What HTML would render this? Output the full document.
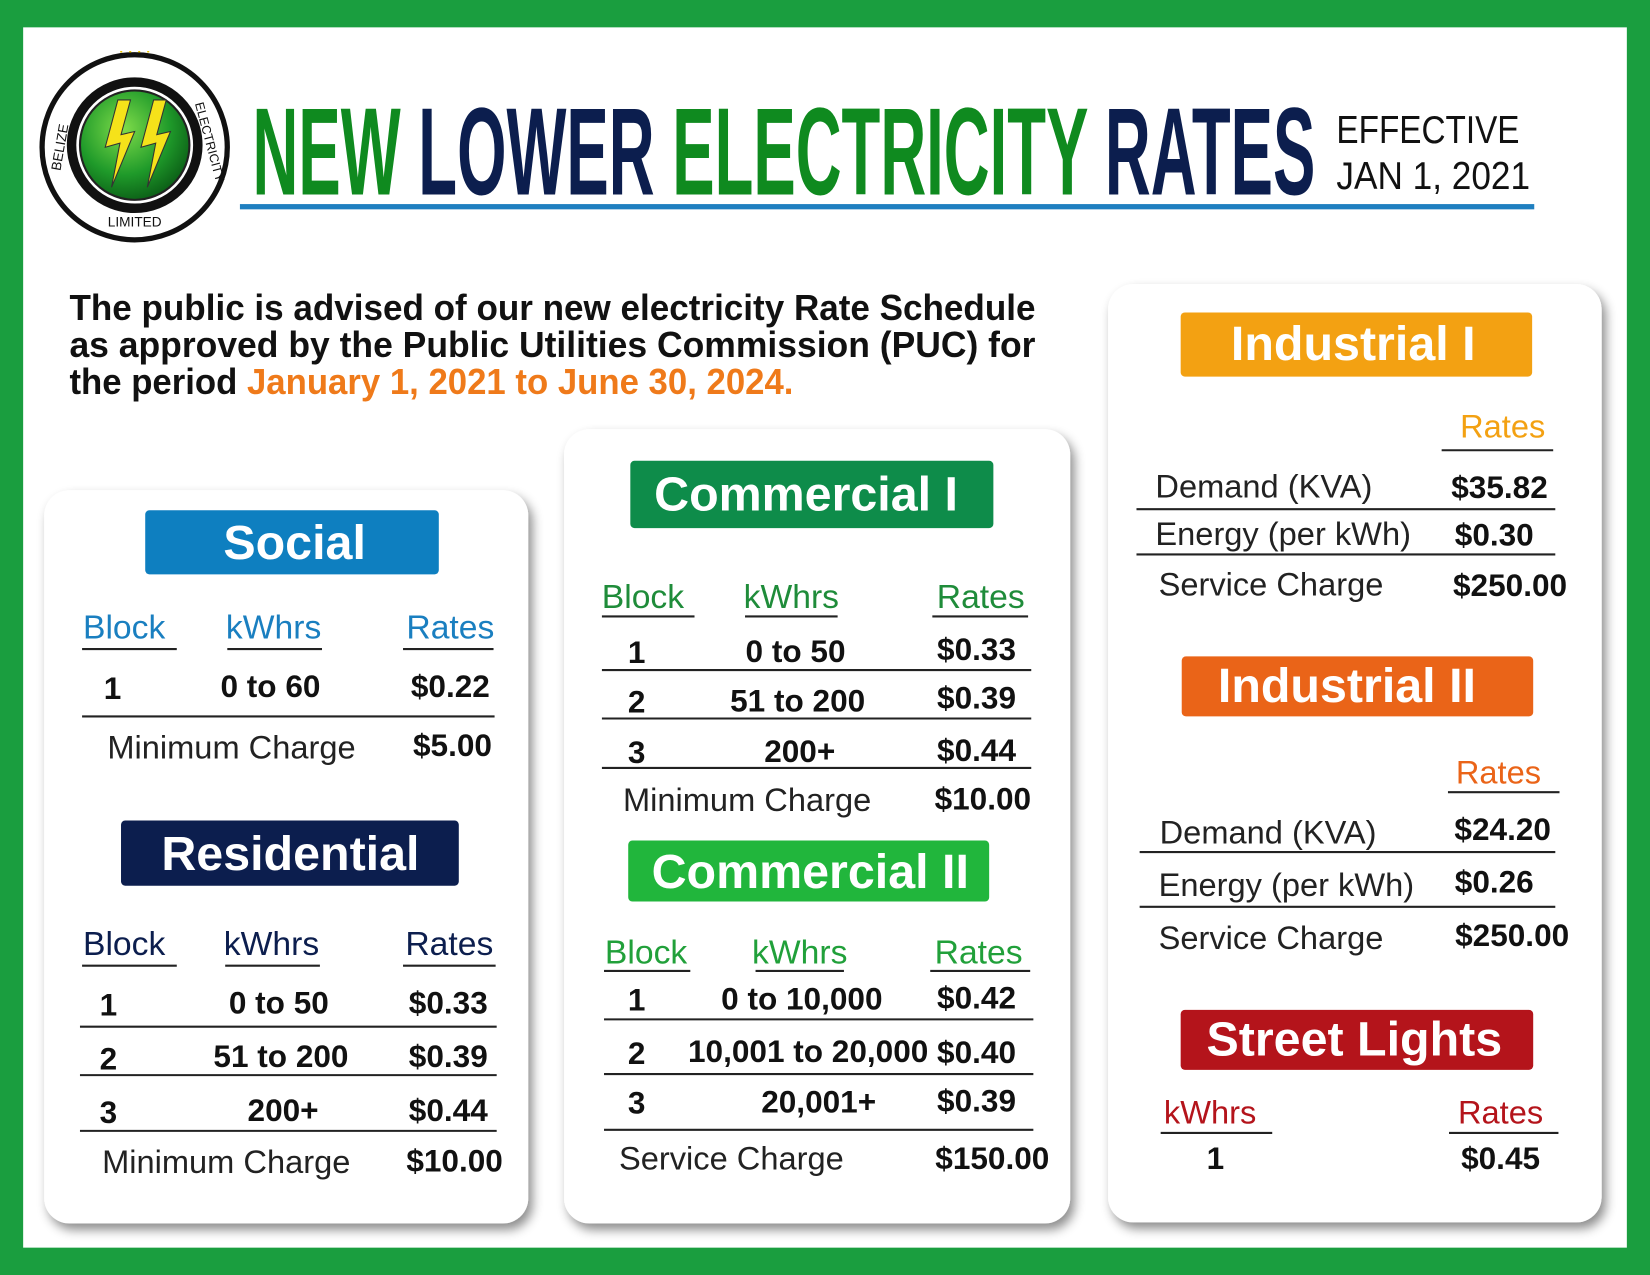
<!DOCTYPE html>
<html><head><meta charset="utf-8"><style>
html,body{margin:0;padding:0;background:#1a9e3f;}
svg{display:block}
text{font-family:"Liberation Sans",sans-serif;dominant-baseline:central}
.b{font-weight:bold}
</style></head><body>
<svg width="1650" height="1275" viewBox="0 0 1568 1212" preserveAspectRatio="none" xmlns="http://www.w3.org/2000/svg">
<defs>
<filter id="sh" x="-10%" y="-10%" width="130%" height="130%"><feDropShadow dx="4" dy="6" stdDeviation="5" flood-color="#000" flood-opacity="0.45"/></filter>
<radialGradient id="gb" cx="40%" cy="35%" r="70%"><stop offset="0" stop-color="#7fdc4a"/><stop offset="0.6" stop-color="#1f9a2a"/><stop offset="1" stop-color="#0a5a15"/></radialGradient>
</defs>
<rect x="0" y="0" width="1568" height="1212" fill="#1a9e3f"/>
<rect x="22" y="26" width="1524" height="1160" fill="#fff"/>

<!-- logo -->
<circle cx="128" cy="140" r="88" fill="#fff" stroke="#111" stroke-width="5"/>
<circle cx="128" cy="138" r="60" fill="none" stroke="#111" stroke-width="9"/>
<circle cx="128" cy="138" r="52" fill="url(#gb)" stroke="#222" stroke-width="2"/>
<path d="M112 95 L100 140 L114 136 L106 178 L128 125 L115 128 L124 95Z" fill="#f5e21a" stroke="#333" stroke-width="1"/>
<path d="M146 95 L134 140 L148 136 L140 178 L162 125 L149 128 L158 95Z" fill="#f5e21a" stroke="#333" stroke-width="1"/>
<text x="57" y="140" font-size="13" fill="#111" transform="rotate(-80 57 140)" text-anchor="middle">BELIZE</text>
<text x="199" y="135" font-size="12" fill="#111" transform="rotate(75 199 135)" text-anchor="middle">ELECTRICITY</text>
<text x="128" y="211" font-size="13" fill="#111" text-anchor="middle">LIMITED</text>
<text x="128" y="55" font-size="14" fill="#e8c400" text-anchor="middle" class="b">˙ ˙ ˙ ˙</text>

<!-- title -->
<text x="240" y="145" font-size="118" class="b" textLength="1010" lengthAdjust="spacingAndGlyphs" font-family="Liberation Sans Narrow, Liberation Sans, sans-serif"><tspan fill="#0f8a1f">NEW </tspan><tspan fill="#0c1e4e">LOWER </tspan><tspan fill="#0f8a1f">ELECTRICITY </tspan><tspan fill="#0c1e4e">RATES</tspan></text>
<rect x="228" y="194" width="1230" height="5" fill="#1f7fc0"/>
<text x="1270" y="124" font-size="37" fill="#111" textLength="174" lengthAdjust="spacingAndGlyphs">EFFECTIVE</text>
<text x="1270" y="168" font-size="37" fill="#111" textLength="184" lengthAdjust="spacingAndGlyphs">JAN 1, 2021</text>

<!-- paragraph -->
<text x="66" y="293" font-size="34" class="b" fill="#111" textLength="918" lengthAdjust="spacingAndGlyphs">The public is advised of our new electricity Rate Schedule</text>
<text x="66" y="328" font-size="34" class="b" fill="#111" textLength="918" lengthAdjust="spacingAndGlyphs">as approved by the Public Utilities Commission (PUC) for</text>
<text x="66" y="363" font-size="34" class="b" fill="#111" textLength="688" lengthAdjust="spacingAndGlyphs">the period <tspan fill="#ef7a1a">January 1, 2021 to June 30, 2024.</tspan></text>

<!-- cards -->
<rect x="42" y="466" width="460" height="697" rx="24" fill="#fff" filter="url(#sh)"/>
<rect x="536" y="408" width="481" height="755" rx="24" fill="#fff" filter="url(#sh)"/>
<rect x="1053" y="270" width="469" height="892" rx="24" fill="#fff" filter="url(#sh)"/>

<g text-anchor="middle">
<!-- Social -->
<rect x="138" y="485" width="279" height="61" rx="4" fill="#0e7fc0"/>
<text x="280" y="516" font-size="46" class="b" fill="#fff">Social</text>
<g fill="#1a7fc0" font-size="32"><text x="118" y="597">Block</text><text x="260" y="597">kWhrs</text><text x="428" y="597">Rates</text></g>
<g stroke="#222" stroke-width="2"><line x1="78" y1="617" x2="168" y2="617"/><line x1="216" y1="617" x2="306" y2="617"/><line x1="383" y1="617" x2="469" y2="617"/><line x1="78" y1="681" x2="470" y2="681"/></g>
<g font-size="30" class="b" fill="#111"><text x="107" y="654">1</text><text x="257" y="652">0 to 60</text><text x="428" y="652">$0.22</text><text x="430" y="708">$5.00</text></g>
<text x="220" y="710" font-size="31" fill="#222">Minimum Charge</text>

<!-- Residential -->
<rect x="115" y="780" width="321" height="62" rx="4" fill="#0c1e4e"/>
<text x="276" y="812" font-size="46" class="b" fill="#fff">Residential</text>
<g fill="#0c1e4e" font-size="32"><text x="118" y="898">Block</text><text x="258" y="898">kWhrs</text><text x="427" y="898">Rates</text></g>
<g stroke="#222" stroke-width="2"><line x1="78" y1="918" x2="168" y2="918"/><line x1="214" y1="918" x2="304" y2="918"/><line x1="383" y1="918" x2="471" y2="918"/>
<line x1="76" y1="976" x2="472" y2="976"/><line x1="76" y1="1022" x2="472" y2="1022"/><line x1="76" y1="1075" x2="472" y2="1075"/></g>
<g font-size="30" class="b" fill="#111">
<text x="103" y="955">1</text><text x="265" y="953">0 to 50</text><text x="426" y="953">$0.33</text>
<text x="103" y="1006">2</text><text x="267" y="1004">51 to 200</text><text x="426" y="1004">$0.39</text>
<text x="103" y="1057">3</text><text x="269" y="1055">200+</text><text x="426" y="1055">$0.44</text>
<text x="432" y="1103">$10.00</text></g>
<text x="215" y="1104" font-size="31" fill="#222">Minimum Charge</text>

<!-- Commercial I -->
<rect x="599" y="438" width="345" height="64" rx="4" fill="#0e8c4a"/>
<text x="766" y="470" font-size="46" class="b" fill="#fff">Commercial I</text>
<g fill="#1f8c3a" font-size="32"><text x="611" y="568">Block</text><text x="752" y="568">kWhrs</text><text x="932" y="568">Rates</text></g>
<g stroke="#222" stroke-width="2"><line x1="572" y1="586" x2="660" y2="586"/><line x1="708" y1="586" x2="796" y2="586"/><line x1="886" y1="586" x2="977" y2="586"/>
<line x1="572" y1="637" x2="980" y2="637"/><line x1="572" y1="683" x2="980" y2="683"/><line x1="572" y1="730" x2="980" y2="730"/></g>
<g font-size="30" class="b" fill="#111">
<text x="605" y="620">1</text><text x="756" y="619">0 to 50</text><text x="928" y="617">$0.33</text>
<text x="605" y="667">2</text><text x="758" y="666">51 to 200</text><text x="928" y="663">$0.39</text>
<text x="605" y="715">3</text><text x="760" y="714">200+</text><text x="928" y="713">$0.44</text>
<text x="934" y="759">$10.00</text></g>
<text x="710" y="760" font-size="31" fill="#222">Minimum Charge</text>

<!-- Commercial II -->
<rect x="597" y="799" width="343" height="58" rx="4" fill="#21b63c"/>
<text x="770" y="829" font-size="46" class="b" fill="#fff">Commercial II</text>
<g fill="#21a03a" font-size="32"><text x="614" y="906">Block</text><text x="760" y="906">kWhrs</text><text x="930" y="906">Rates</text></g>
<g stroke="#222" stroke-width="2"><line x1="574" y1="923" x2="656" y2="923"/><line x1="718" y1="923" x2="802" y2="923"/><line x1="884" y1="923" x2="979" y2="923"/>
<line x1="574" y1="969" x2="982" y2="969"/><line x1="574" y1="1021" x2="982" y2="1021"/><line x1="574" y1="1074" x2="982" y2="1074"/></g>
<g font-size="30" class="b" fill="#111">
<text x="605" y="950">1</text><text x="762" y="949">0 to 10,000</text><text x="928" y="948">$0.42</text>
<text x="605" y="1001">2</text><text x="768" y="999">10,001 to 20,000</text><text x="928" y="1000">$0.40</text>
<text x="605" y="1048">3</text><text x="778" y="1047">20,001+</text><text x="928" y="1046">$0.39</text>
<text x="943" y="1101">$150.00</text></g>
<text x="695" y="1101" font-size="31" fill="#222">Service Charge</text>

<!-- Industrial I -->
<rect x="1122" y="297" width="334" height="61" rx="4" fill="#f3a112"/>
<text x="1286" y="327" font-size="46" class="b" fill="#fff">Industrial I</text>
<text x="1428" y="405" font-size="31" fill="#f3a112">Rates</text>
<g stroke="#222" stroke-width="2"><line x1="1370" y1="428" x2="1476" y2="428"/><line x1="1080" y1="484" x2="1478" y2="484"/><line x1="1080" y1="527" x2="1478" y2="527"/></g>
<g font-size="30" class="b" fill="#111"><text x="1425" y="463">$35.82</text><text x="1420" y="508">$0.30</text><text x="1435" y="556">$250.00</text></g>
<!-- Industrial II -->
<rect x="1123" y="624" width="334" height="57" rx="4" fill="#ea6418"/>
<text x="1280" y="652" font-size="46" class="b" fill="#fff">Industrial II</text>
<text x="1424" y="734" font-size="31" fill="#ea6418">Rates</text>
<g stroke="#222" stroke-width="2"><line x1="1376" y1="753" x2="1482" y2="753"/><line x1="1083" y1="810" x2="1478" y2="810"/><line x1="1083" y1="862" x2="1478" y2="862"/></g>
<g font-size="30" class="b" fill="#111"><text x="1428" y="788">$24.20</text><text x="1420" y="838">$0.26</text><text x="1437" y="889">$250.00</text></g>
<!-- Street Lights -->
<rect x="1122" y="960" width="335" height="57" rx="4" fill="#b4141b"/>
<text x="1287" y="988" font-size="46" class="b" fill="#fff">Street Lights</text>
<g fill="#b4141b" font-size="31"><text x="1150" y="1057">kWhrs</text><text x="1426" y="1057">Rates</text></g>
<g stroke="#222" stroke-width="2"><line x1="1103" y1="1077" x2="1209" y2="1077"/><line x1="1377" y1="1077" x2="1481" y2="1077"/></g>
<g font-size="30" class="b" fill="#111"><text x="1155" y="1101">1</text><text x="1426" y="1101">$0.45</text></g>
</g>
<g font-size="31" fill="#222">
<text x="1098" y="462">Demand (KVA)</text><text x="1098" y="507">Energy (per kWh)</text><text x="1101" y="555">Service Charge</text>
<text x="1102" y="791">Demand (KVA)</text><text x="1101" y="841">Energy (per kWh)</text><text x="1101" y="891">Service Charge</text>
</g>
</svg>
</body></html>
